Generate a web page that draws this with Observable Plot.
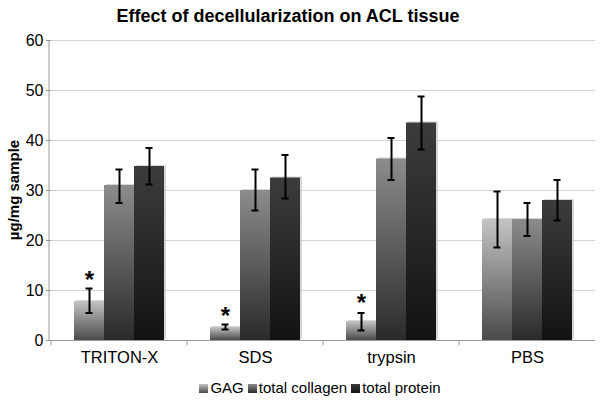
<!DOCTYPE html>
<html><head><meta charset="utf-8">
<script src="https://cdn.jsdelivr.net/npm/d3@7"></script>
<script src="https://cdn.jsdelivr.net/npm/@observablehq/plot@0.6"></script>
<style>
body{margin:0;background:#fff;font-family:"Liberation Sans",Arial,sans-serif;}
#wrap{position:relative;width:600px;height:400px;}
#title{position:absolute;left:0;width:576px;top:6px;text-align:center;font-weight:bold;font-size:18px;color:#000;}
#legend{position:absolute;left:20px;width:600px;top:379px;text-align:center;font-size:15px;color:#000;white-space:nowrap;}
#legend span.sw{display:inline-block;width:9px;height:9px;margin-right:2px;vertical-align:0px;}
#legend span.it{margin:0 2px;}
</style></head>
<body><div id="wrap"><div id="title">Effect of decellularization on ACL tissue</div><div id="legend"></div></div>
<script>
const categories = ["TRITON-X","SDS","trypsin","PBS"];
const series = ["GAG","total collagen","total protein"];
const gag = [7.8, 2.6, 3.8, 24.2];
const gagLow = [5.5, 2.2, 2.0, 18.6];
const gagHigh = [10.4, 3.2, 5.5, 29.8];
const collagen = [31.0, 30.0, 36.3, 24.2];
const collagenLow = [27.5, 26.0, 32.1, 20.9];
const collagenHigh = [34.2, 34.2, 40.5, 27.5];
const protein = [34.8, 32.5, 43.5, 28.0];
const proteinLow = [31.2, 28.4, 38.2, 24.0];
const proteinHigh = [38.5, 37.1, 48.8, 32.1];
const starY = [13.0, 5.9, 8.4];   // asterisk positions (significant GAG groups)
const yTicks = [0,10,20,30,40,50,60];

const gradIds = ["gGAG","gCol","gProt"];
const gradStops = [["#c4c4c4","#4a4a4a"],["#8c8c8c","#2a2a2a"],["#3c3c3c","#121212"]];

const vals=[gag,collagen,protein], lows=[gagLow,collagenLow,proteinLow], highs=[gagHigh,collagenHigh,proteinHigh];
const data=[];
categories.forEach((c,i)=>series.forEach((s,j)=>data.push({cat:c,ser:s,v:vals[j][i],lo:lows[j][i],hi:highs[j][i],fill:`url(#${gradIds[j]})`})));
const stars = starY.map((y,i)=>({cat:categories[i],ser:"GAG",y}));

const plot = Plot.plot({
  width:600,height:400,
  marginTop:40,marginBottom:60,marginLeft:49,marginRight:4,
  style:{fontFamily:'"Liberation Sans",Arial,sans-serif',background:"transparent"},
  fx:{domain:categories,padding:0,label:null},
  x:{domain:series,paddingInner:0,paddingOuter:0.7,axis:null},
  y:{domain:[0,60],ticks:yTicks,label:null},
  marks:[
    Plot.gridY(yTicks,{stroke:"#d4d4d4",strokeOpacity:1}),
    Plot.barY(data,{fx:"cat",x:"ser",y:"v",fill:"#bdbdbd",fillOpacity:0.6,dx:2,dy:-1}),
    Plot.barY(data,{fx:"cat",x:"ser",y:"v",fill:d=>d.fill}),
    Plot.ruleX(data,{fx:"cat",x:"ser",y1:"lo",y2:"hi",stroke:"#000",strokeWidth:2}),
    Plot.tickY(data,{fx:"cat",x:"ser",y:"lo",stroke:"#000",strokeWidth:2,insetLeft:11.5,insetRight:11.5}),
    Plot.tickY(data,{fx:"cat",x:"ser",y:"hi",stroke:"#000",strokeWidth:2,insetLeft:11.5,insetRight:11.5}),
    Plot.text(stars,{fx:"cat",x:"ser",y:"y",text:()=>"*",fontSize:24,fontWeight:"bold",dy:5,fill:"#000"}),
    Plot.ruleY([0],{stroke:"#999"}),
    Plot.axisY(yTicks,{tickSize:5,tickPadding:3,fontSize:16,stroke:"#999",fill:"#000",label:null}),
    Plot.axisFx({anchor:"bottom",tickSize:0,tickPadding:11,fontSize:16.5,fill:"#000",label:null})
  ]
});
const svg = d3.select(plot);
const defs = svg.insert("defs",":first-child");
gradIds.forEach((id,j)=>{
  const g=defs.append("linearGradient").attr("id",id).attr("x1",0).attr("y1",0).attr("x2",0).attr("y2",1);
  g.append("stop").attr("offset","0%").attr("stop-color",gradStops[j][0]);
  g.append("stop").attr("offset","100%").attr("stop-color",gradStops[j][1]);
});
const ys = plot.scale("y");
const fxs = plot.scale("fx");
// y-axis line
svg.append("line").attr("x1",49).attr("x2",49).attr("y1",ys.apply(60)).attr("y2",ys.apply(0)).attr("stroke","#999");
// category boundary ticks
categories.forEach(c=>{
  const x=fxs.apply(c);
  svg.append("line").attr("x1",x).attr("x2",x).attr("y1",ys.apply(0)).attr("y2",ys.apply(0)+5).attr("stroke","#999");
});
// y label
svg.append("text").attr("transform",`translate(19,${(ys.apply(0)+ys.apply(60))/2}) rotate(-90)`)
  .attr("text-anchor","middle").attr("font-weight","bold").attr("font-size",15)
  .attr("font-family",'"Liberation Sans",Arial,sans-serif').text("µg/mg sample");
document.getElementById("wrap").prepend(plot);
plot.style.position="absolute";plot.style.left="0";plot.style.top="0";
const leg=document.getElementById("legend");
series.forEach((s,j)=>{
  const it=document.createElement("span");it.className="it";
  it.innerHTML=`<span class="sw" style="background:linear-gradient(${gradStops[j][0]},${gradStops[j][1]})"></span>${s}`;
  leg.appendChild(it);
});
</script></body></html>
